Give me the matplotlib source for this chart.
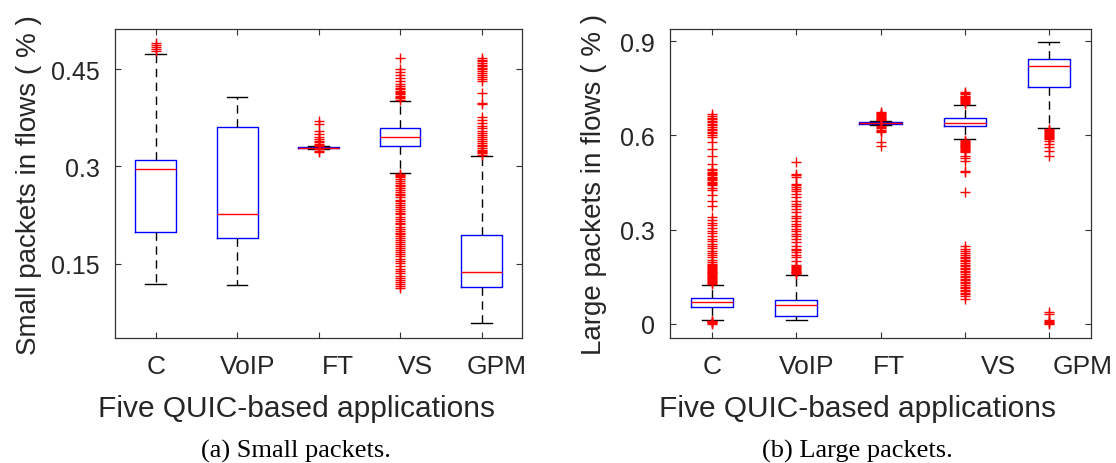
import numpy as np
import matplotlib
matplotlib.use("Agg")
import matplotlib.pyplot as plt
from matplotlib.transforms import ScaledTranslation

plt.rcParams["font.family"] = ["Liberation Sans", "DejaVu Sans"]

apps = ["C", "VoIP", "FT", "VS", "GPM"]

# (a) small packets: box statistics
small_med = [0.2964, 0.2263, 0.3292, 0.3454, 0.1373]
small_q1 = [0.1986, 0.1900, 0.3285, 0.3317, 0.1136]
small_q3 = [0.3100, 0.3610, 0.3298, 0.3593, 0.1950]
small_lo = [0.1183, 0.1178, 0.3268, 0.2902, 0.0579]
small_hi = [0.4735, 0.4075, 0.3318, 0.4007, 0.3163]
small_fliers = [
    [0.478, 0.481, 0.484, 0.487, 0.490],
    [],
    [0.370, 0.365, 0.355, 0.350, 0.345, 0.342, 0.339, 0.337, 0.335, 0.333,
     0.331, 0.327, 0.324, 0.322],
    [0.467, 0.451, 0.446, 0.441, 0.437, 0.431, 0.427, 0.424, 0.421, 0.419,
     0.417, 0.415, 0.413, 0.411, 0.409, 0.407, 0.405, 0.403,
     0.289, 0.287, 0.285, 0.283, 0.280, 0.278, 0.275, 0.272, 0.270, 0.267,
     0.264, 0.261, 0.258, 0.256, 0.253, 0.249, 0.246, 0.243, 0.240, 0.238,
     0.234, 0.231, 0.228, 0.226, 0.222, 0.219, 0.216, 0.213, 0.211, 0.207,
     0.204, 0.201, 0.198, 0.196, 0.192, 0.189, 0.186, 0.183, 0.180, 0.177,
     0.174, 0.171, 0.168, 0.165, 0.162, 0.158, 0.154, 0.151, 0.147, 0.142,
     0.139, 0.135, 0.131, 0.128, 0.125, 0.122, 0.119, 0.116, 0.113],
    [0.318, 0.320, 0.322, 0.324, 0.326, 0.328, 0.331, 0.333, 0.336, 0.339,
     0.342, 0.345, 0.348, 0.351, 0.355, 0.359, 0.363, 0.367, 0.372, 0.377,
     0.396, 0.398, 0.414, 0.432, 0.435, 0.438, 0.441, 0.444, 0.447, 0.450,
     0.452, 0.455, 0.457, 0.460, 0.462, 0.464, 0.467],
]

# (b) large packets
large_med = [0.0711, 0.0605, 0.6400, 0.6390, 0.8206]
large_q1 = [0.0541, 0.0255, 0.6375, 0.6306, 0.7558]
large_q3 = [0.0839, 0.0764, 0.6425, 0.6570, 0.8430]
large_lo = [0.0127, 0.0138, 0.6340, 0.5890, 0.6230]
large_hi = [0.1253, 0.1560, 0.6455, 0.6975, 0.8960]
large_fliers = [
    [0.001, 0.003, 0.005, 0.007, 0.009, 0.011,
     0.128, 0.131, 0.134, 0.137, 0.140, 0.143, 0.146, 0.149, 0.152, 0.155,
     0.158, 0.161, 0.164, 0.167, 0.170, 0.173, 0.176, 0.179, 0.182, 0.185,
     0.188, 0.191, 0.197, 0.204, 0.212, 0.219, 0.226, 0.233, 0.241, 0.249,
     0.256, 0.264, 0.272, 0.281, 0.289, 0.297, 0.306, 0.314, 0.323, 0.331,
     0.340, 0.377, 0.392, 0.409, 0.425, 0.433, 0.441, 0.445, 0.449, 0.453,
     0.457, 0.461, 0.465, 0.469, 0.473, 0.477, 0.481, 0.485, 0.489, 0.493,
     0.510, 0.536, 0.557, 0.579, 0.594, 0.602, 0.607, 0.612, 0.617, 0.622,
     0.627, 0.632, 0.637, 0.642, 0.647, 0.652, 0.657, 0.662, 0.667],
    [0.158, 0.161, 0.164, 0.167, 0.170, 0.173, 0.176, 0.179, 0.182, 0.185,
     0.188, 0.202, 0.212, 0.221, 0.228, 0.234, 0.239, 0.249, 0.260, 0.271,
     0.279, 0.287, 0.295, 0.303, 0.311, 0.319, 0.329, 0.337, 0.345, 0.356,
     0.366, 0.374, 0.382, 0.393, 0.405, 0.414, 0.422, 0.430, 0.437, 0.441,
     0.445, 0.467, 0.473, 0.478, 0.515],
    [0.568, 0.579, 0.611, 0.615, 0.619, 0.623, 0.627, 0.630, 0.648, 0.651,
     0.654, 0.657, 0.660, 0.663, 0.666, 0.669, 0.672, 0.675],
    [0.700, 0.703, 0.706, 0.709, 0.712, 0.715, 0.718, 0.721, 0.724, 0.727,
     0.731, 0.735, 0.738,
     0.586, 0.583, 0.580, 0.577, 0.574, 0.571, 0.568, 0.565, 0.562, 0.559,
     0.556, 0.553, 0.550, 0.547, 0.536, 0.528, 0.520, 0.488, 0.483, 0.419,
     0.249, 0.240, 0.232, 0.225, 0.219, 0.214, 0.209, 0.204, 0.199, 0.194,
     0.189, 0.184, 0.179, 0.174, 0.169, 0.164, 0.159, 0.154, 0.149, 0.144,
     0.139, 0.134, 0.129, 0.124, 0.119, 0.114, 0.109, 0.104, 0.099, 0.094,
     0.089, 0.080],
    [0.620, 0.617, 0.614, 0.611, 0.608, 0.605, 0.602, 0.599, 0.596, 0.592,
     0.589, 0.583, 0.573, 0.562, 0.552, 0.536,
     0.037, 0.032, 0.012, 0.009, 0.006, 0.003, 0.000],
]

TXT = "#262626"


def make_stats(med, q1, q3, lo, hi, fl):
    return [dict(med=m, q1=a, q3=b, whislo=l, whishi=h, fliers=np.array(f), label=n)
            for n, m, a, b, l, h, f in zip(apps, med, q1, q3, lo, hi, fl)]


def draw(ax, stats, ylim, yticks, yticklabels, ylabel, shifts, ylab_x, caption):
    ax.bxp(stats, positions=range(1, 6), widths=0.5, capwidths=0.25,
           boxprops=dict(color="blue", lw=1.0),
           medianprops=dict(color="red", lw=1.0),
           whiskerprops=dict(color="black", lw=1.0, ls=(0, (6, 4))),
           capprops=dict(color="black", lw=1.0),
           flierprops=dict(marker="+", markeredgecolor="red", markersize=7,
                           markeredgewidth=1.0, linestyle="none"))
    ax.set_xlim(0.5, 5.5)
    ax.set_ylim(*ylim)
    ax.set_yticks(yticks)
    ax.set_yticklabels(yticklabels)
    ax.set_xticks(range(1, 6))
    ax.set_xticklabels(apps)
    for s in ax.spines.values():
        s.set_color("#333333")
        s.set_linewidth(0.9)
    ax.tick_params(direction="in", top=True, right=True, length=4, width=0.8,
                   color="#333333", labelcolor=TXT)
    ax.tick_params(axis="x", pad=11, labelsize=19)
    ax.tick_params(axis="y", pad=11, labelsize=18)
    fig = ax.figure
    for lab, dx in zip(ax.get_xticklabels(), shifts):
        lab.set_transform(lab.get_transform() + ScaledTranslation(dx / 100, 0, fig.dpi_scale_trans))
    ax.set_xlabel("Five QUIC-based applications", fontsize=21.5, color=TXT)
    ax.xaxis.set_label_coords(0.445, -0.18)
    ax.set_ylabel(ylabel, fontsize=20, color=TXT)
    ax.yaxis.set_label_coords(ylab_x, 0.5)
    bb = ax.get_position()
    fig.text(bb.x0 + bb.width * 0.445, 0.027, caption, ha="center", va="center",
             fontsize=19, family=["Liberation Serif", "DejaVu Serif"], color="black")


fig = plt.figure(figsize=(11.16, 4.64), dpi=100)
ax1 = fig.add_axes([0.1030, 0.2688, 0.3650, 0.6666])
ax2 = fig.add_axes([0.6004, 0.2688, 0.3772, 0.6666])

draw(ax1, make_stats(small_med, small_q1, small_q3, small_lo, small_hi, small_fliers),
     (0.035, 0.512), [0.15, 0.3, 0.45], ["0.15", "0.3", "0.45"],
     "Small packets in flows ( % )", [0, 10, 19, 15, 15], -0.178, "(a) Small packets.")
draw(ax2, make_stats(large_med, large_q1, large_q3, large_lo, large_hi, large_fliers),
     (-0.0455, 0.939), [0, 0.3, 0.6, 0.9], ["0", "0.3", "0.6", "0.9"],
     "Large packets in flows ( % )", [0, 10, 8, 34, 34], -0.150, "(b) Large packets.")

fig.savefig("out.png", dpi=100, facecolor="white")
